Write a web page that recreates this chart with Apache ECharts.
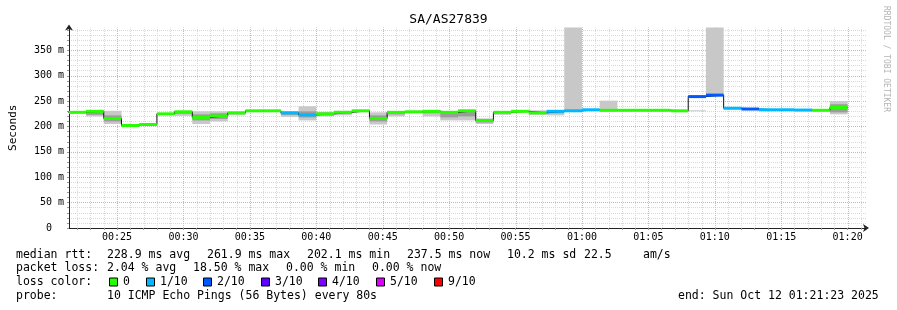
<!DOCTYPE html>
<html><head><meta charset="utf-8">
<script src="https://cdn.jsdelivr.net/npm/echarts@6/dist/echarts.min.js"></script>
<style>html,body{margin:0;padding:0;background:#fff}#c{width:897px;height:310px}</style>
</head><body><div id="c"></div>
<script>
// ---- data ----
const chartTitle = 'SA/AS27839';
const firstStep = 1280;      // 00:21:20, seconds after midnight
const stepSeconds = 80;
const rangeStart = 1283;     // 00:21:23
const rangeEnd = 4883;       // 01:21:23
const yMax = 395;
// median rtt per 80 s step (ms)
const medians = [228, 230, 216, 202.1, 204, 225, 229, 218, 221, 227, 231, 231, 227, 223, 225, 228, 231, 216, 228, 229,
                 230, 228, 231, 212, 228, 230, 227, 230, 231, 233, 232, 232, 232, 232, 231, 259, 261.9, 236, 234.5, 233,
                 233, 232.5, 232, 237.5];
// lost pings (of 10) per step
const losses = [0, 0, 0, 0, 0, 0, 0, 0, 0, 0, 0, 0, 1, 1, 0, 0, 0, 0, 0, 0,
                0, 0, 0, 0, 0, 0, 0, 1, 1, 1, 0, 0, 0, 0, 0, 2, 2, 1, 2, 1,
                1, 1, 0, 0];
// smoke (spread of the pings): outer band and darker core band
const smokeLow  = [226, 220, 205, 201, 202, 223, 221, 205, 210, 222, 229, 230, 219, 212, 220, 222, 229, 204, 220, 227,
                   220, 212, 212, 205, 223, 228, 223, 222, 229, 231, 230, 231, 231, 231, 230, 230, 262, 235, 233, 232,
                   232, 231, 231, 224];
const smokeHigh = [230, 232, 231, 204, 206, 227, 231, 230, 230, 229, 232, 232, 230, 240, 229, 231, 232, 228, 230, 231,
                   232, 230, 232, 216, 230, 232, 232, 231, 395, 234, 251, 233, 233, 233, 232, 232, 395, 238, 236, 234,
                   234, 234, 233, 250];
const coreLow   = [null, 223, 210, null, null, null, 225, 212, 215, null, null, null, 223, 218, 222, 225, null, 210, 224, null,
                   226, 218, 220, 208, null, null, 225, 226, null, null, null, null, null, null, null, null, null, null, null, null,
                   null, null, null, 228];
const coreHigh  = [null, 230, 222, null, null, null, 230, 224, 226, null, null, null, 229, 230, 227, 230, null, 222, 229, null,
                   231, 229, 230, 214, null, null, 229, 230, null, null, null, null, null, null, null, null, null, null, null, null,
                   null, null, null, 244];
const yLabelValues = [0, 50, 100, 150, 200, 250, 300, 350];
const xLabelTimes = [1500, 1800, 2100, 2400, 2700, 3000, 3300, 3600, 3900, 4200, 4500, 4800];
const lossColors = ['#26ff00', '#00b8ff', '#0059ff', '#5e00ff', '#7e00ff', '#dd00ff', '#ff0000'];
const lossLabels = ['0', '1/10', '2/10', '3/10', '4/10', '5/10', '9/10'];
const statsRtt  = ['median rtt:', '228.9 ms avg', '261.9 ms max', '202.1 ms min', '237.5 ms now', '10.2 ms sd', '22.5', 'am/s'];
const statsLoss = ['packet loss:', '2.04 % avg', '18.50 % max', '0.00 % min', '0.00 % now'];
const probeText = ['probe:', '10 ICMP Echo Pings (56 Bytes) every 80s'];
const endText = 'end: Sun Oct 12 01:21:23 2025';

// ---- helpers ----
const FONT = 'DejaVu Sans Mono';
const MINOR = '#d9d9d9', MAJOR = '#f2a6a6';
const pad2 = n => String(n).padStart(2, '0');
const fmtTime = s => pad2(Math.floor(s / 3600)) + ':' + pad2(Math.floor(s % 3600 / 60));
const lossIndex = n => n <= 5 ? n : 6;
const minuteTimes = [];
for (let t = Math.ceil(rangeStart / 60) * 60; t <= rangeEnd; t += 60) minuteTimes.push(t);
const stepRows = medians.map((m, i) => [firstStep + i * stepSeconds, firstStep + (i + 1) * stepSeconds, m, losses[i],
  smokeLow[i], smokeHigh[i], coreLow[i], coreHigh[i]]);
const lineData = medians.map((m, i) => [firstStep + i * stepSeconds, m]);
lineData.push([firstStep + medians.length * stepSeconds, medians[medians.length - 1]]);

const splitColors = [];
for (let v = 0; v <= yMax; v += 10) splitColors.push(v % 50 === 0 ? MAJOR : MINOR);
splitColors.push('rgba(0,0,0,0)');

function clipRect(cs, xa, xb, ya, yb) {
  const x0 = Math.max(Math.min(xa, xb), cs.x), x1 = Math.min(Math.max(xa, xb), cs.x + cs.width);
  const y0 = Math.max(Math.min(ya, yb), cs.y), y1 = Math.min(Math.max(ya, yb), cs.y + cs.height);
  return { x: x0, y: y0, width: Math.max(0, x1 - x0), height: Math.max(0, y1 - y0) };
}

// ---- legend graphics ----
const graphics = [];
const lineY = [255, 268.5, 282.5, 296.5];
const txt = (x, y, text, extra) => graphics.push(Object.assign({ type: 'text', x, y,
  style: { text, font: '11.5px "' + FONT + '"', fill: '#000', verticalAlign: 'middle' }, silent: true }, extra || {}));
const rttX = [16, 107, 207, 307, 407, 507, 584, 643];
statsRtt.forEach((s, i) => txt(rttX[i], lineY[0], s));
const lossX = [16, 107, 193, 286, 372];
statsLoss.forEach((s, i) => txt(lossX[i], lineY[1], s));
txt(16, lineY[2], 'loss color:');
const swatchX = [109, 146, 203, 261, 318, 376, 434];
lossLabels.forEach((l, i) => {
  graphics.push({ type: 'rect', shape: { x: swatchX[i] + 0.5, y: lineY[2] - 4.5, width: 8, height: 8 },
    style: { fill: lossColors[i], stroke: '#000', lineWidth: 1 }, silent: true });
  txt(swatchX[i] + 14, lineY[2], l);
});
txt(16, lineY[3], probeText[0]);
txt(107, lineY[3], probeText[1]);
txt(678, lineY[3], endText);
graphics.push({ type: 'text', x: 886, y: 59, rotation: -Math.PI / 2,
  style: { text: 'RRDTOOL / TOBI OETIKER', font: '8px "' + FONT + '"', fill: '#b4b4b4', align: 'center', verticalAlign: 'middle' }, silent: true });

const chart = echarts.init(document.getElementById('c'), null, { renderer: 'canvas' });
chart.setOption({
  animation: false,
  backgroundColor: '#ffffff',
  title: { text: chartTitle, left: 'center', top: 13, padding: 0,
    textStyle: { fontFamily: FONT, fontSize: 13, fontWeight: 'normal', color: '#000' } },
  grid: { left: 66, right: 31, top: 27.6, bottom: 82 },
  xAxis: {
    type: 'value', min: rangeStart, max: rangeEnd,
    axisLine: { show: true, lineStyle: { color: '#222', width: 1 }, symbol: ['none', 'arrow'], symbolSize: [6, 6], symbolOffset: [0, 3] },
    axisTick: { show: true, length: 2, customValues: minuteTimes, lineStyle: { color: '#999' } },
    axisLabel: { customValues: xLabelTimes, formatter: v => fmtTime(v), fontFamily: FONT, fontSize: 10, color: '#000', margin: 4 },
    splitLine: { show: false }
  },
  yAxis: {
    type: 'value', min: 0, max: yMax, interval: 10,
    name: 'Seconds', nameLocation: 'middle', nameGap: 50, nameRotate: 90,
    nameTextStyle: { fontFamily: FONT, fontSize: 11, color: '#000' },
    axisLine: { show: true, lineStyle: { color: '#222', width: 1 }, symbol: ['none', 'arrow'], symbolSize: [6, 6], symbolOffset: [0, 3] },
    axisTick: { show: true, length: 2, lineStyle: { color: '#999' } },
    axisLabel: { formatter: v => yLabelValues.includes(v) ? (v === 0 ? '0  ' : v + ' m') : '',
      fontFamily: FONT, fontSize: 10, color: '#000', margin: 5 },
    splitLine: { show: true, lineStyle: { color: splitColors, type: [1, 1], width: 1 } }
  },
  graphic: graphics,
  series: [
    { // vertical grid lines (every minute, major every 5 minutes)
      type: 'custom', silent: true, z: 1,
      data: minuteTimes.map(t => [t]),
      encode: { x: 0 },
      renderItem(params, api) {
        const t = api.value(0);
        const p0 = api.coord([t, 0]), p1 = api.coord([t, yMax]);
        const x = Math.round(p0[0]) + 0.5;
        return { type: 'line', shape: { x1: x, y1: p0[1], x2: x, y2: p1[1] },
          style: { stroke: t % 300 === 0 ? MAJOR : MINOR, lineWidth: 1, lineDash: [1, 1] } };
      }
    },
    { // smoke
      type: 'custom', silent: true, z: 2,
      data: stepRows,
      encode: { x: [0, 1], y: [4, 5] },
      renderItem(params, api) {
        const cs = params.coordSys;
        const t0 = api.value(0), t1 = api.value(1);
        const kids = [];
        const band = (lo, hi, fill) => {
          const a = api.coord([t0, hi]), b = api.coord([t1, lo]);
          kids.push({ type: 'rect', shape: clipRect(cs, a[0], b[0], a[1], b[1]), style: { fill } });
        };
        band(api.value(4), api.value(5), '#c8c8c8');
        const cl = stepRows[params.dataIndex][6], ch = stepRows[params.dataIndex][7];
        if (cl != null && ch != null) band(cl, ch, '#9c9c9c');
        return { type: 'group', children: kids };
      }
    },
    { // median connecting line
      type: 'line', step: 'end', data: lineData, symbol: 'none', z: 3, silent: true,
      lineStyle: { color: '#111', width: 1 }
    },
    { // median coloured by loss
      type: 'custom', silent: true, z: 4,
      data: stepRows,
      encode: { x: [0, 1], y: 2 },
      renderItem(params, api) {
        const cs = params.coordSys;
        const t0 = api.value(0), t1 = api.value(1), m = api.value(2);
        const a = api.coord([t0, m]), b = api.coord([t1, m]);
        return { type: 'rect', shape: clipRect(cs, a[0], b[0], a[1] - 1.5, a[1] + 1.5),
          style: { fill: lossColors[lossIndex(api.value(3))] } };
      }
    }
  ]
});
</script></body></html>
